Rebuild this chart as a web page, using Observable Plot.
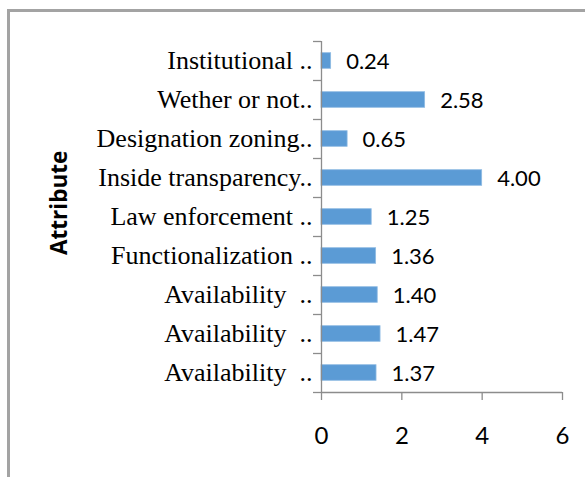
<!DOCTYPE html>
<html>
<head>
<meta charset="utf-8">
<script src="https://cdn.jsdelivr.net/npm/d3@7"></script>
<script src="https://cdn.jsdelivr.net/npm/@observablehq/plot@0.6"></script>
<style>
  html, body { margin: 0; padding: 0; background: #fff; }
  #wrap { position: relative; width: 585px; height: 477px; overflow: hidden; }
  #frame { position: absolute; left: 7px; top: 9px; width: 600px; height: 500px;
           border-top: 3px solid #a3a3a3; border-left: 3px solid #a3a3a3; box-sizing: border-box; }
  #chart { position: absolute; left: 0; top: 0; }
  svg text { white-space: pre; }
</style>
</head>
<body>
<div id="wrap"><div id="frame"></div><div id="chart"></div></div>
<script>
const categories = [
  "Institutional ..",
  "Wether or not..",
  "Designation zoning..",
  "Inside transparency..",
  "Law enforcement ..",
  "Functionalization ..",
  "Availability  ..",
  "Availability  ..",
  "Availability  .."
];
const values = [0.24, 2.58, 0.65, 4.00, 1.25, 1.36, 1.40, 1.47, 1.37];
const xTicks = [0, 2, 4, 6];
const axisTitle = "Attribute";

const data = categories.map((c, i) => ({i, label: c, value: values[i]}));
const idx = d3.range(categories.length);
const boundaries = d3.range(-0.5, categories.length, 1);
const half = 0.2; // half bar thickness in category units

const axisColor = "#8c8c8c";

const chart = Plot.plot({
  width: 585,
  height: 477,
  marginLeft: 321,
  marginRight: 23,
  marginTop: 41,
  marginBottom: 85,
  style: {background: "transparent", color: "#000"},
  x: {domain: [0, 6], label: null},
  y: {domain: [categories.length - 0.5, -0.5], label: null},
  marks: [
    Plot.rectX(data, {
      x1: 0, x2: "value",
      y1: d => d.i - half, y2: d => d.i + half,
      fill: "#5b9bd5", stroke: "#8fbbe3", strokeWidth: 0.8
    }),
    // y axis: line, boundary ticks, labels
    Plot.ruleX([0], {stroke: axisColor, strokeWidth: 1.3}),
    Plot.axisY(boundaries, {
      tickSize: 8, tickFormat: () => "", stroke: axisColor, strokeWidth: 1.3, label: null
    }),
    Plot.axisY(idx, {
      tickSize: 0, tickPadding: 9, label: null,
      tickFormat: i => categories[i],
      fontFamily: "Liberation Serif", fontSize: 26, fill: "#000"
    }),
    // x axis
    Plot.ruleY([categories.length - 0.5], {stroke: axisColor, strokeWidth: 1.3, x1: 0, x2: 6}),
    Plot.axisX(xTicks, {
      tickSize: 8, tickPadding: 26, stroke: axisColor, strokeWidth: 1.3,
      fontFamily: "Lato", fontSize: 24, fill: "#000", label: null
    }),
    // value labels
    Plot.text(data, {
      x: "value", y: "i", text: d => d.value.toFixed(2),
      textAnchor: "start", dx: 15, dy: 1,
      fontFamily: "Lato", fontSize: 22, fill: "#000"
    }),
    // axis title
    Plot.text([axisTitle], {
      frameAnchor: "left", dx: -262, dy: 38,
      rotate: -90, fontFamily: "Open Sans", fontWeight: "bold",
      fontSize: 22.5, fill: "#000", text: d => d
    })
  ]
});
document.getElementById("chart").appendChild(chart);
</script>
</body>
</html>
